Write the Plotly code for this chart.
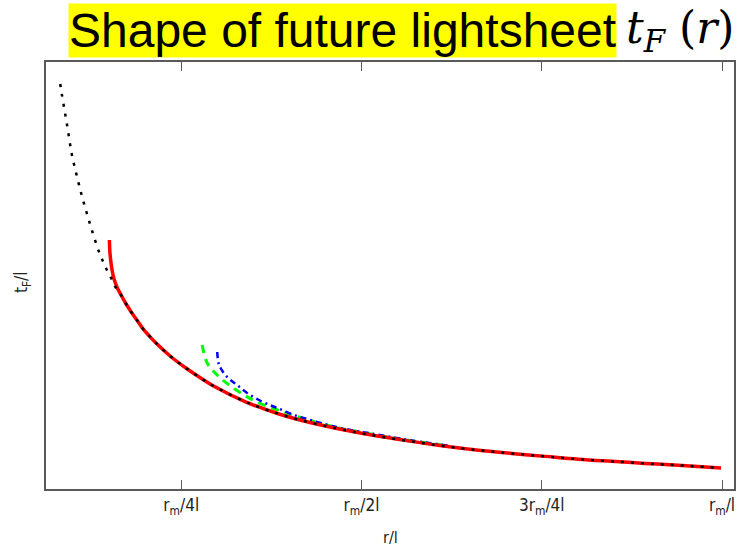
import plotly.graph_objects as go

# ---- data (r in units of r_m, t_F/l in arbitrary units) ----
red_r = [0.1504, 0.1511, 0.1525, 0.1546, 0.1573, 0.1615, 0.1666, 0.1732, 0.1804, 0.1885,
         0.1965, 0.2058, 0.2150, 0.2358, 0.2565, 0.2791, 0.2929, 0.3400, 0.3856, 0.4313,
         0.4783, 0.5240, 0.5697, 0.6167, 0.6624, 0.7080, 0.7551, 0.8007, 0.8464, 0.8934,
         0.9391, 0.9986]
red_t = [0.5831, 0.5550, 0.5316, 0.5082, 0.4895, 0.4707, 0.4543, 0.4344, 0.4152, 0.3958,
         0.3763, 0.3583, 0.3419, 0.3098, 0.2834, 0.2576, 0.2430, 0.2037, 0.1757, 0.1546,
         0.1375, 0.1234, 0.1115, 0.1000, 0.0907, 0.0834, 0.0764, 0.0698, 0.0648, 0.0600,
         0.0556, 0.0492]

black_r = [0.0822, 0.0844, 0.0891, 0.0937, 0.0982, 0.1043, 0.1112, 0.1186, 0.1269, 0.1356,
           0.1407, 0.1463, 0.1528, 0.1587, 0.1666, 0.1732, 0.1804, 0.1885, 0.1965, 0.2058,
           0.2150, 0.2358, 0.2565, 0.2791, 0.2929, 0.3400, 0.3856, 0.4313, 0.4783, 0.5240,
           0.5697, 0.6167, 0.6624, 0.7080, 0.7551, 0.8007, 0.8464, 0.8934, 0.9391, 0.9890]
black_t = [0.9485, 0.9251, 0.8782, 0.8314, 0.7845, 0.7400, 0.6932, 0.6487, 0.6019, 0.5574,
           0.5363, 0.5152, 0.4941, 0.4731, 0.4543, 0.4344, 0.4152, 0.3958, 0.3763, 0.3583,
           0.3419, 0.3098, 0.2834, 0.2576, 0.2430, 0.2037, 0.1757, 0.1546, 0.1375, 0.1234,
           0.1115, 0.1000, 0.0907, 0.0834, 0.0764, 0.0698, 0.0648, 0.0600, 0.0556, 0.0503]

green_r = [0.2791, 0.2860, 0.2998, 0.3165, 0.3372, 0.3552, 0.3760, 0.3953, 0.4175, 0.4410,
           0.4687, 0.5060, 0.5337, 0.5700, 0.6200]
green_t = [0.3372, 0.2951, 0.2670, 0.2436, 0.2201, 0.2037, 0.1897, 0.1780, 0.1663, 0.1546,
           0.1429, 0.1311, 0.1225, 0.1130, 0.1012]

blue_r = [0.3000, 0.3026, 0.3137, 0.3275, 0.3414, 0.3580, 0.3760, 0.3898, 0.4064, 0.4244,
          0.4590, 0.4922, 0.5143, 0.5700, 0.6200]
blue_t = [0.3208, 0.2904, 0.2623, 0.2436, 0.2248, 0.2084, 0.1944, 0.1850, 0.1733, 0.1639,
          0.1475, 0.1358, 0.1300, 0.1135, 0.1015]

tick_vals = [0.25, 0.5, 0.75, 1.0]
tick_text = ["r<sub>m</sub>/4l", "r<sub>m</sub>/2l", "3r<sub>m</sub>/4l", "r<sub>m</sub>/l"]

label_font = "DejaVu Sans Condensed, Liberation Sans Narrow, Liberation Sans"

fig = go.Figure()
fig.add_trace(go.Scatter(x=green_r, y=green_t, mode="lines", line_shape="spline",
                         line=dict(color="#00ff00", width=3, dash="8px,6px"), hoverinfo="skip"))
fig.add_trace(go.Scatter(x=blue_r, y=blue_t, mode="lines", line_shape="spline",
                         line=dict(color="#0000ff", width=2.5, dash="6px,4px,2px,4px"), hoverinfo="skip"))
fig.add_trace(go.Scatter(x=red_r, y=red_t, mode="lines", line_shape="spline",
                         line=dict(color="#ff0000", width=3.5), hoverinfo="skip"))
fig.add_trace(go.Scatter(x=black_r, y=black_t, mode="lines", line_shape="spline",
                         line=dict(color="#000000", width=2.5, dash="3px,7px"),
                         hoverinfo="skip"))

axis_col = "#5a5a5a"
fig.update_layout(
    width=743, height=548,
    margin=dict(l=46, r=7, t=62, b=59),
    paper_bgcolor="white", plot_bgcolor="white",
    showlegend=False,
    xaxis=dict(range=[0.0625, 1.0166], showgrid=False, zeroline=False,
               showline=True, linecolor=axis_col, linewidth=1.5, mirror="ticks",
               ticks="inside", ticklen=9, tickwidth=1.2, tickcolor=axis_col,
               tickvals=tick_vals, ticktext=tick_text,
               tickfont=dict(family=label_font, size=17, color="#222")),
    yaxis=dict(range=[0, 1], showgrid=False, zeroline=False,
               showline=True, linecolor=axis_col, linewidth=1.5, mirror=True,
               ticks="", showticklabels=False),
    annotations=[
        dict(text="Shape of future lightsheet", xref="paper", yref="paper",
             x=(343.5 - 46) / 690, y=(489 - 31) / 427, xanchor="center", yanchor="middle",
             showarrow=False, bgcolor="#ffff00", borderpad=0,
             font=dict(family="Liberation Sans, Arial", size=48, color="black")),
        dict(text="<i>t</i><sub><i>F</i></sub> (<i>r</i>)", xref="paper", yref="paper",
             x=(626 - 46) / 690, y=(489 - 31) / 427, xanchor="left", yanchor="middle",
             showarrow=False,
             font=dict(family="DejaVu Serif", size=44, color="black")),
        dict(text="r/l", xref="paper", yref="paper", x=(391 - 46) / 690, y=(489 - 537) / 427,
             xanchor="center", yanchor="middle", showarrow=False,
             font=dict(family=label_font, size=16, color="#222")),
        dict(text="t<sub>F</sub>/l", xref="paper", yref="paper", x=(22 - 46) / 690, y=(489 - 282) / 427,
             xanchor="center", yanchor="middle", showarrow=False, textangle=-90,
             font=dict(family=label_font, size=17, color="#222")),
    ],
)

fig.write_html("out.html")
